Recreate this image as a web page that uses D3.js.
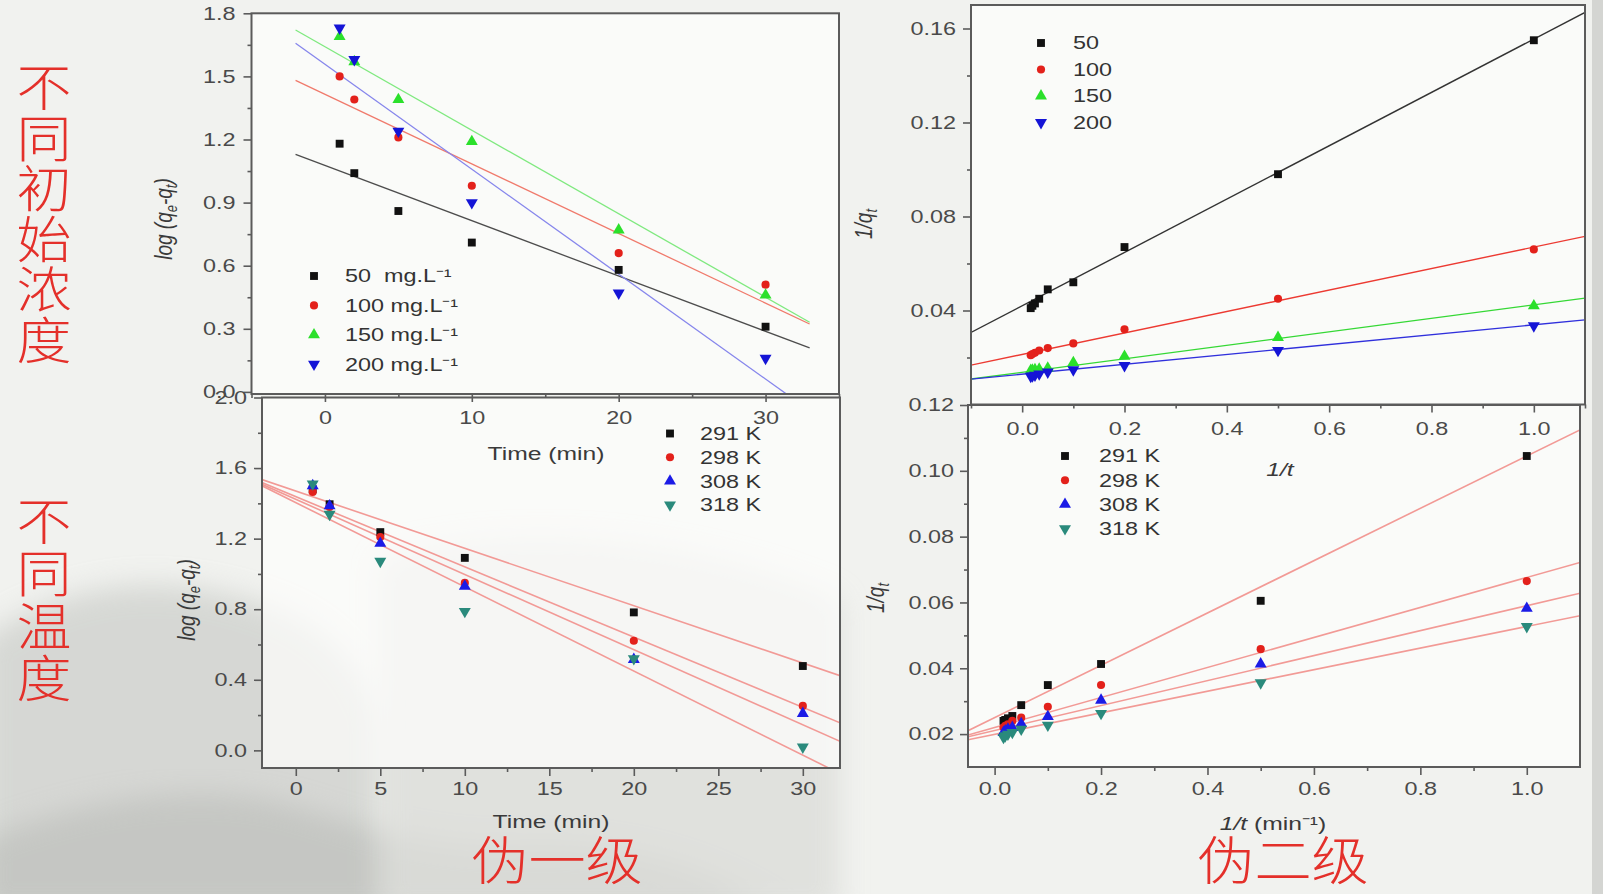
<!DOCTYPE html>
<html><head><meta charset="utf-8">
<script src="https://cdn.jsdelivr.net/npm/d3@7"></script>
<style>
html,body{margin:0;padding:0;background:#f1f2ef;overflow:hidden}
svg{display:block}
text{font-family:"Liberation Sans",Arial,sans-serif}
.cjk{font-family:"Noto Sans CJK SC",sans-serif;fill:#e4302a;font-weight:300}
</style></head><body>
<svg id="chart" width="1603" height="894"></svg>
<script>
// ---- sampling times ----
const timeMin = [1, 2, 5, 10, 20, 30];                                  // t (min)
const invTime = [1, 0.5, 0.2, 0.1, 0.05, 0.0333, 0.025, 0.02, 0.0167];  // 1/t (min^-1)

// ---- pseudo-first-order, initial concentration: log(qe - qt) ----
const concLegend = ["50  mg.L⁻¹", "100 mg.L⁻¹", "150 mg.L⁻¹", "200 mg.L⁻¹"];
const pfoC50  = [1.18, 1.04, 0.86, 0.71, 0.58, 0.31];
const pfoC100 = [1.50, 1.39, 1.21, 0.98, 0.66, 0.51];
const pfoC150 = [1.69, 1.57, 1.39, 1.19, 0.77, 0.46];
const pfoC200 = [1.73, 1.58, 1.24, 0.90, 0.47, 0.16];
const pfoConcFit = [[1.077, -0.0263], [1.415, -0.0331], [1.641, -0.0397], [1.558, -0.0499]]; // [intercept, slope]

// ---- pseudo-second-order, initial concentration: 1/qt ----
const concLegendShort = ["50", "100", "150", "200"];
const psoC50  = [0.155, 0.098, 0.067, 0.052, 0.049, 0.045, 0.043, 0.042, 0.041];
const psoC100 = [0.066, 0.045, 0.032, 0.026, 0.024, 0.023, 0.022, 0.0215, 0.021];
const psoC150 = [0.042, 0.0285, 0.0205, 0.0178, 0.0155, 0.015, 0.0148, 0.0146, 0.0145];
const psoC200 = [0.0335, 0.023, 0.0166, 0.0148, 0.0138, 0.013, 0.0125, 0.0122, 0.012];
const psoConcFit = [[0.042, 0.1135], [0.0213, 0.0457], [0.0137, 0.0287], [0.0129, 0.021]];

// ---- pseudo-first-order, temperature: log(qe - qt) ----
const tempLegend = ["291 K", "298 K", "308 K", "318 K"];
const pfoT291 = [1.48, 1.395, 1.237, 1.091, 0.782, 0.478];
const pfoT298 = [1.465, 1.38, 1.209, 0.949, 0.621, 0.252];
const pfoT308 = [1.50, 1.386, 1.173, 0.930, 0.515, 0.209];
const pfoT318 = [1.51, 1.338, 1.072, 0.788, 0.52, 0.019];
const pfoTempFit = [[1.470, -0.0325], [1.438, -0.0398], [1.423, -0.0426], [1.404, -0.0477]];

// ---- pseudo-second-order, temperature: 1/qt ----
const psoT291 = [0.1045, 0.0605, 0.0413, 0.0349, 0.0288, 0.0255, 0.0248, 0.0243, 0.024];
const psoT298 = [0.0665, 0.0458, 0.0349, 0.0283, 0.0250, 0.024, 0.023, 0.0225, 0.022];
const psoT308 = [0.0582, 0.0413, 0.0303, 0.0253, 0.0232, 0.022, 0.0215, 0.021, 0.0205];
const psoT318 = [0.0527, 0.0356, 0.0263, 0.0227, 0.0215, 0.0205, 0.020, 0.0195, 0.019];
const psoTempFit = [[0.025, 0.0795], [0.0220, 0.0456], [0.0211, 0.0379], [0.0199, 0.0328]];

// ---- tick values ----
const tlXTicks = [0, 10, 20, 30],            tlXMinor = [-5, 5, 15, 25, 35];
const tlYTicks = [0, 0.3, 0.6, 0.9, 1.2, 1.5, 1.8], tlYMinor = [0.15, 0.45, 0.75, 1.05, 1.35, 1.65];
const trXTicks = [0, 0.2, 0.4, 0.6, 0.8, 1.0], trXMinor = [-0.1, 0.1, 0.3, 0.5, 0.7, 0.9, 1.1];
const trYTicks = [0.04, 0.08, 0.12, 0.16],   trYMinor = [0.02, 0.06, 0.10, 0.14];
const blXTicks = [0, 5, 10, 15, 20, 25, 30], blXMinor = [2.5, 7.5, 12.5, 17.5, 22.5, 27.5];
const blYTicks = [0, 0.4, 0.8, 1.2, 1.6, 2.0], blYMinor = [0.2, 0.6, 1.0, 1.4, 1.8];
const brXTicks = [0, 0.2, 0.4, 0.6, 0.8, 1.0], brXMinor = [0.1, 0.3, 0.5, 0.7, 0.9];
const brYTicks = [0.02, 0.04, 0.06, 0.08, 0.10, 0.12], brYMinor = [0.03, 0.05, 0.07, 0.09, 0.11];

// ---- side captions ----
const captionConc = ["不", "同", "初", "始", "浓", "度"];
const captionTemp = ["不", "同", "温", "度"];
const captionFirst = "伪一级";
const captionSecond = "伪二级";

const SX = 1.3;   // horizontal stretch of the Latin lettering
const svg = d3.select("#chart");
const defs = svg.append("defs");
defs.append("filter").attr("id", "soft").attr("x", "-20%").attr("y", "-20%").attr("width", "140%").attr("height", "140%")
  .append("feGaussianBlur").attr("stdDeviation", 14);

// slide backdrop
const back = svg.append("g");
back.append("rect").attr("width", 1603).attr("height", 894).attr("fill", "#f1f2ef");
back.append("path").attr("filter", "url(#soft)").attr("fill", "#c8cac6").attr("opacity", 0.65)
  .attr("d", "M-20,640 C60,585 150,570 250,600 C320,620 360,660 380,720 L380,914 L-20,914 Z");
back.append("path").attr("filter", "url(#soft)").attr("fill", "#babcb8").attr("opacity", 0.6)
  .attr("d", "M-20,840 C80,800 200,780 290,805 C360,825 430,850 520,846 C610,842 700,860 780,914 L-20,914 Z");
back.append("path").attr("filter", "url(#soft)").attr("fill", "#dcddd9").attr("opacity", 0.8)
  .attr("d", "M380,560 C520,520 700,540 840,600 L840,914 L380,914 Z");
back.append("rect").attr("x", 1592).attr("width", 11).attr("height", 894).attr("fill", "#d4d5d2");

const bgLayer = svg.append("g");
const plotLayer = svg.append("g");

const sym = {
  square: d3.symbol(d3.symbolSquare, 62)(),
  circle: d3.symbol(d3.symbolCircle, 52)(),
  up: d3.symbol(d3.symbolTriangle, 62)(),
};

function stretchText(sel) {
  sel.each(function () {
    const t = d3.select(this);
    const xv = +t.attr("x") || 0;
    t.attr("x", 0).attr("transform", `translate(${xv},0) scale(${SX},1)`);
  });
}

function panel(c) {
  const x = d3.scaleLinear().domain(c.xDomain).range(c.xRange);
  const y = d3.scaleLinear().domain(c.yDomain).range(c.yRange);
  const [x0, x1] = c.xRange, [yb, yt] = c.yRange;

  bgLayer.append("rect").attr("x", x0).attr("y", yt).attr("width", x1 - x0).attr("height", yb - yt)
    .attr("fill", "#fdfdfc").attr("opacity", 0.72);

  defs.append("clipPath").attr("id", c.id).append("rect")
    .attr("x", x0).attr("y", yt).attr("width", x1 - x0).attr("height", yb - yt);

  const g = plotLayer.append("g");

  // fitted straight lines
  const line = f => d3.line().x(d => x(d)).y(d => y(f[0] + f[1] * d));
  c.fits.forEach((f, i) => {
    g.append("path").datum(c.fitSpan).attr("d", line(f))
      .attr("clip-path", `url(#${c.id})`).attr("fill", "none")
      .attr("stroke", c.lineColors[i]).attr("stroke-width", c.lineWidth);
  });

  // data markers
  c.series.forEach((s, i) => {
    const pts = c.xs.map((v, j) => [v, s[j]]);
    g.append("g").selectAll("path").data(pts).join("path")
      .attr("d", sym[c.shapes[i]])
      .attr("transform", d => `translate(${x(d[0])},${y(d[1])})${c.down[i] ? " rotate(180)" : ""}`)
      .attr("fill", c.colors[i]);
  });

  // frame
  g.append("rect").attr("x", x0).attr("y", yt).attr("width", x1 - x0).attr("height", yb - yt)
    .attr("fill", "none").attr("stroke", "#5b5b5b").attr("stroke-width", 2);

  // axes
  const style = a => {
    a.select(".domain").remove();
    a.selectAll("line").attr("stroke", "#5b5b5b").attr("stroke-width", 1.6);
    a.selectAll("text").attr("font-size", 18).attr("fill", "#4a4a4a")
      .attr("font-family", '"Liberation Sans",Arial,sans-serif').call(stretchText);
  };
  g.append("g").attr("transform", `translate(0,${yb})`)
    .call(d3.axisBottom(x).tickValues(c.xTicks).tickSize(8).tickPadding(c.xPad).tickFormat(d3.format(c.xFmt))).call(style);
  g.append("g").attr("transform", `translate(0,${yb})`)
    .call(d3.axisBottom(x).tickValues(c.xMinor).tickSize(4).tickFormat("")).call(style);
  g.append("g").attr("transform", `translate(${x0},0)`)
    .call(d3.axisLeft(y).tickValues(c.yTicks).tickSize(8).tickPadding(c.yPad).tickFormat(d3.format(c.yFmt))).call(style);
  g.append("g").attr("transform", `translate(${x0},0)`)
    .call(d3.axisLeft(y).tickValues(c.yMinor).tickSize(4).tickFormat("")).call(style);

  // axis titles
  const xt = g.append("text").attr("transform", `translate(${c.xTitle[0]},${c.xTitle[1]}) scale(${SX},1)`)
    .attr("text-anchor", "middle").attr("dy", "0.35em").attr("font-size", 19).attr("fill", "#3a3a3a");
  c.xTitle[2](xt);
  const yt2 = g.append("text").attr("transform", `translate(${c.yTitle[0]},${c.yTitle[1]}) scale(${SX},1) rotate(-90)`)
    .attr("text-anchor", "middle").attr("dy", "0.35em").attr("font-size", 19).attr("fill", "#3a3a3a");
  c.yTitle[2](yt2);

  // legend
  const lg = c.legend;
  c.legendText.forEach((label, i) => {
    const ly = lg.y + i * lg.step;
    g.append("path").attr("d", sym[c.shapes[i]])
      .attr("transform", `translate(${lg.sx},${ly})${c.down[i] ? " rotate(180)" : ""}`)
      .attr("fill", c.colors[i]);
    g.append("text").attr("transform", `translate(${lg.tx},${ly}) scale(${SX},1)`)
      .attr("dy", "0.36em").attr("font-size", 18).attr("fill", "#333").style("white-space", "pre")
      .text(label);
  });
}

const logTitle = t => {
  t.attr("font-style", "italic");
  t.append("tspan").text("log (q");
  t.append("tspan").attr("font-size", 13).attr("dy", 4).text("e");
  t.append("tspan").attr("dy", -4).text("-q");
  t.append("tspan").attr("font-size", 13).attr("dy", 4).text("t");
  t.append("tspan").attr("dy", -4).text(")");
};
const invQTitle = t => {
  t.attr("font-style", "italic");
  t.append("tspan").text("1/q");
  t.append("tspan").attr("font-size", 13).attr("dy", 4).text("t");
};
const timeTitle = t => t.text("Time (min)");
const invTTitle = t => { t.append("tspan").attr("font-style", "italic").text("1/t"); };
const invTUnitTitle = t => {
  t.append("tspan").attr("font-style", "italic").text("1/t");
  t.append("tspan").text(" (min⁻¹)");
};

const concColors = ["#111111", "#e3211b", "#2be02b", "#1414d6"];
const tempColors = ["#111111", "#e3211b", "#1b1be6", "#2a8a7c"];
const shapes4 = ["square", "circle", "up", "up"];
const down4 = [false, false, false, true];

// pseudo-first-order, initial concentration
panel({
  id: "tl", xs: timeMin, series: [pfoC50, pfoC100, pfoC150, pfoC200], fits: pfoConcFit, fitSpan: [-2, 33],
  xDomain: [-5, 35], xRange: [251.5, 839], yDomain: [-0.01, 1.8], yRange: [394, 13.3],
  xTicks: tlXTicks, xMinor: tlXMinor, yTicks: tlYTicks, yMinor: tlYMinor, xFmt: "d", yFmt: ".1f", xPad: 9, yPad: 8,
  colors: concColors, shapes: shapes4, down: down4,
  lineColors: ["#4d4d4d", "#f07a6c", "#7fe97f", "#8686ec"], lineWidth: 1.3,
  xTitle: [546, 453, timeTitle], yTitle: [163, 219, logTitle],
  legendText: concLegend, legend: { sx: 314, tx: 345, y: 276, step: 29.4 },
});

// pseudo-second-order, initial concentration
panel({
  id: "tr", xs: invTime, series: [psoC50, psoC100, psoC150, psoC200], fits: psoConcFit, fitSpan: [-0.1, 1.1],
  xDomain: [-0.1, 1.1], xRange: [971, 1585], yDomain: [0, 0.17], yRange: [404.5, 5],
  xTicks: trXTicks, xMinor: trXMinor, yTicks: trYTicks, yMinor: trYMinor, xFmt: ".1f", yFmt: ".2f", xPad: 10, yPad: 7,
  colors: concColors, shapes: shapes4, down: down4,
  lineColors: ["#333333", "#ec3a32", "#35d835", "#3030dc"], lineWidth: 1.4,
  xTitle: [1280, 469, invTTitle], yTitle: [863, 224, invQTitle],
  legendText: concLegendShort, legend: { sx: 1041, tx: 1073, y: 43, step: 26.5 },
});

// pseudo-first-order, temperature
panel({
  id: "bl", xs: timeMin, series: [pfoT291, pfoT298, pfoT308, pfoT318], fits: pfoTempFit, fitSpan: [-2, 32.2],
  xDomain: [-2, 32.2], xRange: [262, 840], yDomain: [-0.1, 2.0], yRange: [768, 397.5],
  xTicks: blXTicks, xMinor: blXMinor, yTicks: blYTicks, yMinor: blYMinor, xFmt: "d", yFmt: ".1f", xPad: 6, yPad: 7,
  colors: tempColors, shapes: shapes4, down: down4,
  lineColors: ["#f29a96", "#f29a96", "#f29a96", "#f29a96"], lineWidth: 1.6,
  xTitle: [551, 821, timeTitle], yTitle: [186, 600, logTitle],
  legendText: tempLegend, legend: { sx: 670, tx: 700, y: 433.5, step: 23.8 },
});

// pseudo-second-order, temperature
panel({
  id: "br", xs: invTime, series: [psoT291, psoT298, psoT308, psoT318], fits: psoTempFit, fitSpan: [-0.05, 1.1],
  xDomain: [-0.05, 1.1], xRange: [968, 1580], yDomain: [0.01, 0.12], yRange: [767, 405],
  xTicks: brXTicks, xMinor: brXMinor, yTicks: brYTicks, yMinor: brYMinor, xFmt: ".1f", yFmt: ".2f", xPad: 7, yPad: 6,
  colors: tempColors, shapes: shapes4, down: down4,
  lineColors: ["#f29a96", "#f29a96", "#f29a96", "#f29a96"], lineWidth: 1.6,
  xTitle: [1273, 823, invTUnitTitle], yTitle: [875, 598, invQTitle],
  legendText: tempLegend, legend: { sx: 1065, tx: 1099, y: 456, step: 24.2 },
});

// red captions
const cap = svg.append("g");
captionConc.forEach((ch, i) => {
  cap.append("text").attr("class", "cjk").attr("transform", `translate(44,${88 + i * 50.6}) scale(1.1,1)`)
    .attr("text-anchor", "middle").attr("dy", "0.36em").attr("font-size", 50).text(ch);
});
captionTemp.forEach((ch, i) => {
  cap.append("text").attr("class", "cjk").attr("transform", `translate(44,${522 + i * 52.3}) scale(1.1,1)`)
    .attr("text-anchor", "middle").attr("dy", "0.36em").attr("font-size", 50).text(ch);
});
cap.append("text").attr("class", "cjk").attr("transform", "translate(557,861) scale(1.1,1)")
  .attr("text-anchor", "middle").attr("dy", "0.36em").attr("font-size", 52).text(captionFirst);
cap.append("text").attr("class", "cjk").attr("transform", "translate(1283,861) scale(1.1,1)")
  .attr("text-anchor", "middle").attr("dy", "0.36em").attr("font-size", 52).text(captionSecond);
</script>
</body></html>
